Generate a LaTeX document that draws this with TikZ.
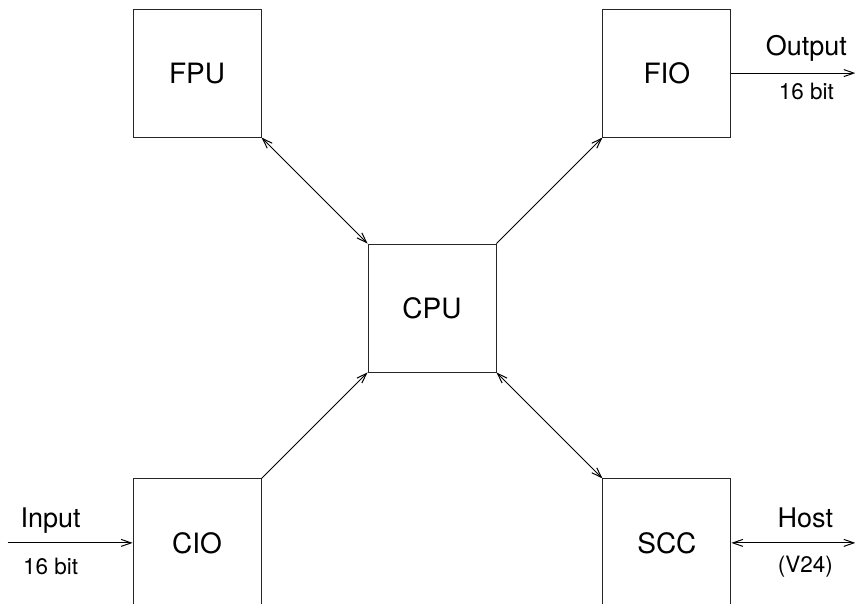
\documentclass[tikz,border=0pt]{standalone}
\usepackage{fontspec}
\setmainfont{TeX Gyre Heros}
\usetikzlibrary{arrows.meta,positioning}

\begin{document}
\begin{tikzpicture}[
    x=1pt, y=1pt,
    unit/.style={draw=black!85, line width=0.9pt, minimum size=128pt, inner sep=0pt, font=\fontsize{28}{32}\selectfont},
    lab/.style={inner sep=0pt, font=\fontsize{27}{30}\selectfont},
    sub/.style={inner sep=0pt, font=\fontsize{22.5}{26}\selectfont},
    node distance=106pt and 106pt,
    >={Straight Barb[length=10pt,width=7pt]},
    line width=1pt
]
\useasboundingbox (0,0) rectangle (855,604);
\clip (0,0) rectangle (855,604);

\node[unit] (cpu) at (432,296) {CPU};
\node[unit, above left=of cpu] (fpu) {FPU};
\node[unit, above right=of cpu] (fio) {FIO};
\node[unit, below left=of cpu] (cio) {CIO};
\node[unit, below right=of cpu] (scc) {SCC};

\draw[<->] (fpu.south east) -- (cpu.north west);
\draw[->] (cpu.north east) -- (fio.south west);
\draw[->] (cio.north east) -- (cpu.south west);
\draw[<->] (cpu.south east) -- (scc.north west);

% outside lines
\coordinate[left=125pt of cio.west] (inp);
\coordinate[left=82pt of cio.west] (inmid);
\draw[->] (inp) -- (cio.west);
\node[lab, above=9pt of inmid] (inlab) {Input};
\node[sub, below=15pt of inmid] (inbits) {16 bit};

\coordinate[right=124pt of fio.east] (outp);
\coordinate[right=75pt of fio.east] (outmid);
\draw[->] (fio.east) -- (outp);
\node[lab, above=11pt of outmid] (outlab) {Output};
\node[sub, below=10pt of outmid] (outbits) {16 bit};

\coordinate[right=124pt of scc.east] (hostp);
\coordinate[right=74pt of scc.east] (hostmid);
\draw[<->] (scc.east) -- (hostp);
\node[lab, above=14pt of hostmid] (hostlab) {Host};
\node[sub, below=13pt of hostmid] (hostif) {(V24)};
\end{tikzpicture}
\end{document}
